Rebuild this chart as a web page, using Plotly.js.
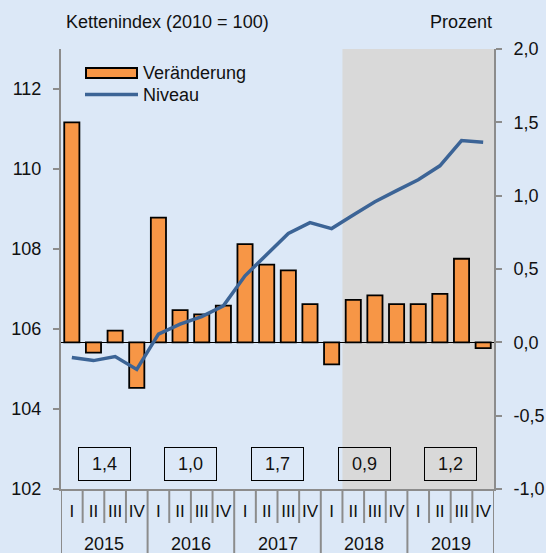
<!DOCTYPE html>
<html><head><meta charset="utf-8">
<script src="https://cdn.plot.ly/plotly-3.0.1.min.js"></script>
<style>html,body{margin:0;padding:0;background:#dce8f7;}</style>
</head><body><div id="chart" style="width:546px;height:553px;"></div>
<script>
// ---- data ----
const years = ['2015', '2016', '2017', '2018', '2019'];
const quarters = ['I', 'II', 'III', 'IV'];
// quarterly change in percent (right axis)
const changePct = [1.50, -0.07, 0.08, -0.31,
                   0.85, 0.22, 0.19, 0.25,
                   0.67, 0.53, 0.49, 0.26,
                   -0.15, 0.29, 0.32, 0.26,
                   0.26, 0.33, 0.57, -0.04];
// chain index level 2010 = 100 (left axis)
const levelIndex = [105.29, 105.21, 105.31, 104.99,
                    105.87, 106.12, 106.31, 106.58,
                    107.33, 107.87, 108.39, 108.66,
                    108.51, 108.85, 109.18, 109.46,
                    109.73, 110.08, 110.71, 110.67];
// annual growth rates
const annualGrowth = [1.4, 1.0, 1.7, 0.9, 1.2];
const forecastStartIndex = 13; // 2018 Q2 onward shaded
const leftTicks = [102, 104, 106, 108, 110, 112];
const rightTicks = [-1, -0.5, 0, 0.5, 1, 1.5, 2];

// ---- build ----
const xCats = [], xQuarters = [];
years.forEach(y => quarters.forEach(q => { xCats.push(q + ' ' + y); xQuarters.push(q); }));
const n = xCats.length;
const nq = quarters.length;
const fmt = v => v.toFixed(1).replace('.', ',');

const AXIS = '#8c8c8c';
const ORANGE = '#f79646';
const BLUE = '#3c6496';

const bars = {
  type: 'bar', x: xCats, y: changePct, yaxis: 'y',
  name: 'Veränderung',
  marker: {color: ORANGE, line: {color: '#000', width: 1.8}}
};
const line = {
  type: 'scatter', mode: 'lines', x: xCats, y: levelIndex, yaxis: 'y2',
  name: 'Niveau', line: {color: BLUE, width: 3.5}
};

// plot area in px for paper conversions
const plotTop = 49, plotBottom = 489, plotLeft = 61, plotRight = 494, H = 553;
const ph = plotBottom - plotTop, pw = plotRight - plotLeft;
const py = y => (plotBottom - y) / ph;
const px = x => (x - plotLeft) / pw;

const shapes = [];
shapes.push({type: 'rect', xref: 'x', yref: 'paper', x0: forecastStartIndex - 0.5, x1: n - 0.5,
  y0: 0, y1: 1, fillcolor: '#d9d9d9', line: {width: 0}, layer: 'below'});
for (let i = 0; i <= n; i++) {
  const yearBoundary = (i % nq === 0);
  shapes.push({type: 'line', xref: 'x', yref: 'paper', x0: i - 0.5, x1: i - 0.5,
    y0: 0, y1: yearBoundary ? py(H) : py(523), line: {color: AXIS, width: 2}});
}
// custom legend symbols
shapes.push({type: 'rect', xref: 'paper', yref: 'paper', x0: px(86), x1: px(137), y0: py(78), y1: py(68),
  fillcolor: ORANGE, line: {color: '#000', width: 2}});
shapes.push({type: 'line', xref: 'paper', yref: 'paper', x0: px(85), x1: px(138), y0: py(94.5), y1: py(94.5),
  line: {color: BLUE, width: 3.5}});

const annotations = [];
annotations.push({xref: 'paper', yref: 'paper', x: px(64), y: py(22), xanchor: 'left', yanchor: 'middle',
  text: 'Kettenindex (2010 = 100)', showarrow: false});
annotations.push({xref: 'paper', yref: 'paper', x: px(494), y: py(22), xanchor: 'right', yanchor: 'middle',
  text: 'Prozent', showarrow: false});
annotations.push({xref: 'paper', yref: 'paper', x: px(141), y: py(72.5), xanchor: 'left', yanchor: 'middle',
  text: 'Veränderung', showarrow: false});
annotations.push({xref: 'paper', yref: 'paper', x: px(141), y: py(95), xanchor: 'left', yanchor: 'middle',
  text: 'Niveau', showarrow: false});
years.forEach((yr, i) => {
  const center = i * nq + (nq - 1) / 2;
  annotations.push({xref: 'x', yref: 'paper', x: center,
    y: py(464), xanchor: 'center', yanchor: 'middle', text: fmt(annualGrowth[i]), showarrow: false,
    bordercolor: '#000', borderwidth: 1, borderpad: 2, width: 47, height: 28});
  annotations.push({xref: 'x', yref: 'paper', x: center, y: py(544), xanchor: 'center', yanchor: 'middle',
    text: yr, showarrow: false, font: {size: 18}});
});

const layout = {
  width: 546, height: H,
  margin: {l: plotLeft, r: 546 - plotRight, t: plotTop, b: H - plotBottom},
  paper_bgcolor: '#dce8f7', plot_bgcolor: 'rgba(0,0,0,0)',
  font: {family: 'Liberation Sans, Arial, sans-serif', size: 18, color: '#111'},
  separators: ',.',
  bargap: 0.3, showlegend: false,
  xaxis: {type: 'category', range: [-0.5, n - 0.5], showline: true, linecolor: AXIS, linewidth: 2,
    tickmode: 'array', tickvals: xCats, ticktext: xQuarters,
    ticks: '', showgrid: false, tickfont: {size: 17}, ticklabelstandoff: 6},
  yaxis: {side: 'right', range: [-1, 2], tickvals: rightTicks, ticktext: rightTicks.map(fmt),
    ticks: 'outside', ticklen: 6, tickwidth: 2, tickcolor: AXIS, showline: true, linecolor: AXIS, linewidth: 2,
    showgrid: false, zeroline: true, zerolinecolor: '#000', zerolinewidth: 1.5, ticklabelstandoff: 8},
  yaxis2: {overlaying: 'y', side: 'left', range: [102, 113], tickvals: leftTicks,
    ticks: 'outside', ticklen: 6, tickwidth: 2, tickcolor: AXIS, showline: true, linecolor: AXIS, linewidth: 2,
    showgrid: false, zeroline: false, ticklabelstandoff: 8},
  shapes: shapes,
  annotations: annotations
};

Plotly.newPlot('chart', [bars, line], layout, {displayModeBar: false, staticPlot: true});
</script>
</body></html>
